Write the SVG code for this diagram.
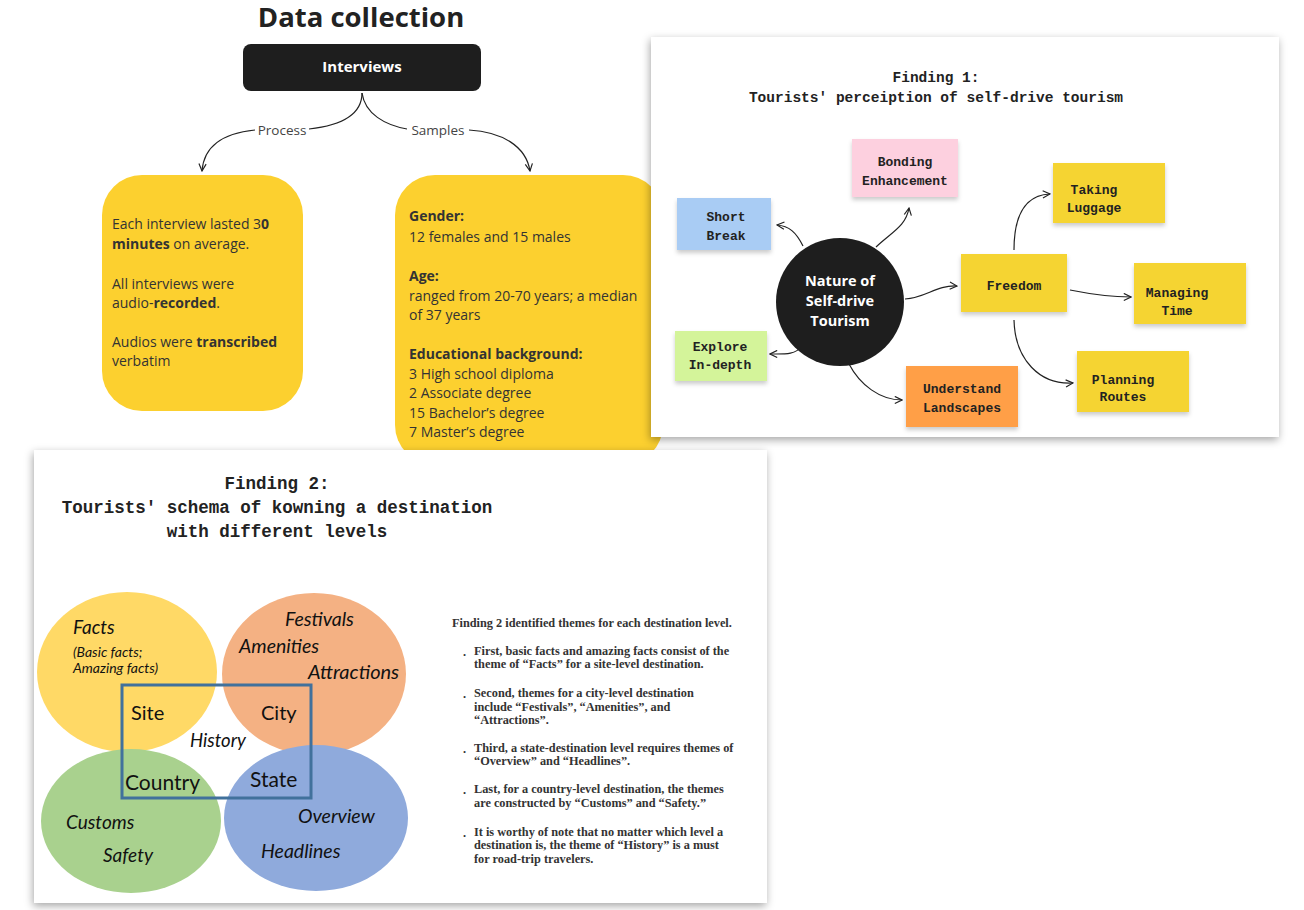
<svg xmlns="http://www.w3.org/2000/svg" width="1304" height="910" viewBox="0 0 1304 910">
<defs>
<style>
.sans{font-family:"Open Sans","Noto Sans","Liberation Sans",sans-serif}
.body{font-family:"Open Sans","Noto Sans",sans-serif;font-size:14px;fill:#333}
.b{font-weight:bold}
.mono{font-family:"Liberation Mono","DejaVu Sans Mono",monospace;font-weight:bold;fill:#222}
.note{font-family:"Liberation Mono","DejaVu Sans Mono",monospace;font-weight:bold;font-size:13px;fill:#222;text-anchor:middle}
.con{fill:none;stroke:#222;stroke-width:1.2}
.ven{font-family:Lato,"Open Sans",sans-serif;fill:#111}
.it{font-style:italic}
.ser{font-family:"Liberation Serif","DejaVu Serif",serif;font-weight:bold;font-size:12.3px;fill:#333}
</style>
<marker id="ah" viewBox="0 0 10 10" refX="9" refY="5" markerWidth="9" markerHeight="9" orient="auto" markerUnits="userSpaceOnUse">
<path d="M1,1 L9,5 L1,9" fill="none" stroke="#222" stroke-width="1.3"/>
</marker>
<filter id="panel" x="-10%" y="-10%" width="120%" height="120%">
<feDropShadow dx="-1" dy="3" stdDeviation="4" flood-color="#000" flood-opacity="0.35"/>
</filter>
<filter id="sh" x="-10%" y="-10%" width="120%" height="130%">
<feDropShadow dx="0" dy="3" stdDeviation="2" flood-color="#000" flood-opacity="0.2"/>
</filter>
</defs>
<rect width="1304" height="910" fill="#fff"/>

<g id="data-collection">
<text x="361" y="27" class="sans b" font-size="27.5" fill="#222" text-anchor="middle">Data collection</text>
<g id="interviews">
<rect x="243" y="44" width="238" height="47" rx="8" fill="#1e1e1e"/>
<text x="362" y="72" class="sans b" font-size="15" fill="#fff" text-anchor="middle">Interviews</text>
</g>
<g id="connectors-dc">
<path class="con" d="M362,93 C362,113 345,125 309,129"/>
<path class="con" d="M255,130 C225,133 204,144 202,171" marker-end="url(#ah)"/>
<path class="con" d="M362,93 C365,114 385,125 407,129"/>
<path class="con" d="M469,130 C502,132 526,146 530,171" marker-end="url(#ah)"/>
<text x="282" y="135" class="sans" font-size="13.5" fill="#444" text-anchor="middle">Process</text>
<text x="438" y="135" class="sans" font-size="13.5" fill="#444" text-anchor="middle">Samples</text>
</g>
<g id="process-box">
<rect x="102" y="175" width="201" height="236" rx="40" fill="#FCD02F"/>
<text class="body"><tspan x="112" y="229">Each interview lasted 3<tspan class="b">0</tspan></tspan><tspan x="112" y="249"><tspan class="b">minutes</tspan> on average.</tspan><tspan x="112" y="289">All interviews were</tspan><tspan x="112" y="308">audio-<tspan class="b">recorded</tspan>.</tspan><tspan x="112" y="347">Audios were <tspan class="b">transcribed</tspan></tspan><tspan x="112" y="366">verbatim</tspan></text>
</g>
<g id="samples-box">
<rect x="395" y="175" width="268" height="290" rx="40" fill="#FCD02F"/>
<text class="body"><tspan x="409" y="221" class="b">Gender:</tspan><tspan x="409" y="242">12 females and 15 males</tspan><tspan x="409" y="281" class="b">Age:</tspan><tspan x="409" y="301">ranged from 20-70 years; a median</tspan><tspan x="409" y="320">of 37 years</tspan><tspan x="409" y="359" class="b">Educational background:</tspan><tspan x="409" y="379">3 High school diploma</tspan><tspan x="409" y="398">2 Associate degree</tspan><tspan x="409" y="418">15 Bachelor’s degree</tspan><tspan x="409" y="437">7 Master’s degree</tspan></text>
</g>
</g>

<g id="finding1">
<rect x="651" y="37" width="628" height="400" fill="#fff" filter="url(#panel)"/>
<text x="936" y="82" class="mono" font-size="14.5" text-anchor="middle">Finding 1:</text>
<text x="936" y="102" class="mono" font-size="14.5" text-anchor="middle">Tourists' perceiption of self-drive tourism</text>
<g id="connectors-f1">
<path class="con" d="M803,246 C796,232 789,226 777,225" marker-end="url(#ah)"/>
<path class="con" d="M876,247 C892,232 906,226 909,208" marker-end="url(#ah)"/>
<path class="con" d="M905,299 C926,298 936,285 957,286" marker-end="url(#ah)"/>
<path class="con" d="M1014,250 C1014,214 1026,195 1050,194" marker-end="url(#ah)"/>
<path class="con" d="M1070,290 C1095,295 1110,297 1131,297" marker-end="url(#ah)"/>
<path class="con" d="M1014,320 C1015,360 1040,385 1073,383" marker-end="url(#ah)"/>
<path class="con" d="M849,364 C860,385 880,400 902,400" marker-end="url(#ah)"/>
<path class="con" d="M802,346 C795,355 785,354 770,354" marker-end="url(#ah)"/>
</g>
<g id="nature">
<circle cx="840" cy="302" r="64" fill="#1e1e1e"/>
<text class="sans b" font-size="14.5" fill="#fff" text-anchor="middle"><tspan x="840" y="286">Nature of</tspan><tspan x="840" y="306">Self-drive</tspan><tspan x="840" y="326">Tourism</tspan></text>
</g>
<g id="bonding">
<rect x="852" y="139" width="106" height="58" fill="#FDD0DF" filter="url(#sh)"/>
<text class="note"><tspan x="905" y="166">Bonding</tspan><tspan x="905" y="185">Enhancement</tspan></text>
</g>
<g id="short-break">
<rect x="677" y="198" width="94" height="52" fill="#A9CCF4" filter="url(#sh)"/>
<text class="note"><tspan x="726" y="221">Short</tspan><tspan x="726" y="240">Break</tspan></text>
</g>
<g id="taking-luggage">
<rect x="1053" y="163" width="112" height="60" fill="#F5D432" filter="url(#sh)"/>
<text class="note"><tspan x="1094" y="194">Taking</tspan><tspan x="1094" y="212">Luggage</tspan></text>
</g>
<g id="freedom">
<rect x="961" y="254" width="106" height="58" fill="#F5D432" filter="url(#sh)"/>
<text class="note" x="1014" y="290">Freedom</text>
</g>
<g id="managing-time">
<rect x="1134" y="263" width="112" height="61" fill="#F5D432" filter="url(#sh)"/>
<text class="note"><tspan x="1177" y="297">Managing</tspan><tspan x="1177" y="315">Time</tspan></text>
</g>
<g id="explore">
<rect x="675" y="331" width="92" height="50" fill="#D4F49A" filter="url(#sh)"/>
<text class="note"><tspan x="720" y="351">Explore</tspan><tspan x="720" y="369">In-depth</tspan></text>
</g>
<g id="understand">
<rect x="906" y="366" width="112" height="61" fill="#FF9F47" filter="url(#sh)"/>
<text class="note"><tspan x="962" y="393">Understand</tspan><tspan x="962" y="412">Landscapes</tspan></text>
</g>
<g id="planning">
<rect x="1077" y="351" width="112" height="61" fill="#F5D432" filter="url(#sh)"/>
<text class="note"><tspan x="1123" y="384">Planning</tspan><tspan x="1123" y="401">Routes</tspan></text>
</g>
</g>

<g id="finding2">
<rect x="34" y="450" width="733" height="453" fill="#fff" filter="url(#panel)"/>
<text class="mono" font-size="17.5" text-anchor="middle"><tspan x="277" y="489">Finding 2:</tspan><tspan x="277" y="513">Tourists' schema of kowning a destination</tspan><tspan x="277" y="537">with different levels</tspan></text>
<g id="venn">
<ellipse cx="127" cy="672" rx="90" ry="80" fill="#FFD966"/>
<ellipse cx="314" cy="674" rx="92" ry="81" fill="#F4B183"/>
<ellipse cx="131" cy="821" rx="90" ry="72" fill="#A9D18E"/>
<ellipse cx="316" cy="818" rx="92" ry="73" fill="#8FAADC"/>
<rect x="122" y="685" width="189" height="113" fill="none" stroke="#41719C" stroke-width="3"/>
<text class="ven it" font-size="19" x="73" y="634">Facts</text>
<text class="ven it" font-size="14" x="73" y="657">(Basic facts;</text>
<text class="ven it" font-size="14" x="73" y="673">Amazing facts)</text>
<text class="ven it" font-size="19.5" x="285" y="626">Festivals</text>
<text class="ven it" font-size="19.5" x="239" y="653">Amenities</text>
<text class="ven it" font-size="20" x="308" y="679">Attractions</text>
<text class="ven" font-size="20" x="131" y="720">Site</text>
<text class="ven" font-size="20" x="261" y="720">City</text>
<text class="ven it" font-size="18.5" x="190" y="747">History</text>
<text class="ven" font-size="21" x="125" y="790">Country</text>
<text class="ven" font-size="21" x="250" y="787">State</text>
<text class="ven it" font-size="19" x="66" y="829">Customs</text>
<text class="ven it" font-size="19" x="103" y="862">Safety</text>
<text class="ven it" font-size="19.5" x="298" y="823">Overview</text>
<text class="ven it" font-size="19.5" x="261" y="858">Headlines</text>
</g>
<g id="finding2-text">
<text class="ser" x="452" y="627">Finding 2 identified themes for each destination level.</text>
<text class="ser"><tspan x="463" y="656">.</tspan><tspan x="463" y="698">.</tspan><tspan x="463" y="753">.</tspan><tspan x="463" y="794">.</tspan><tspan x="463" y="837">.</tspan></text>
<text class="ser"><tspan x="474" y="655">First, basic facts and amazing facts consist of the</tspan><tspan x="474" y="668">theme of “Facts” for a site-level destination.</tspan><tspan x="474" y="697">Second, themes for a city-level destination</tspan><tspan x="474" y="711">include “Festivals”, “Amenities”, and</tspan><tspan x="474" y="724">“Attractions”.</tspan><tspan x="474" y="752">Third, a state-destination level requires themes of</tspan><tspan x="474" y="765">“Overview” and “Headlines”.</tspan><tspan x="474" y="793">Last, for a country-level destination, the themes</tspan><tspan x="474" y="807">are constructed by “Customs” and  “Safety.”</tspan><tspan x="474" y="836">It is worthy of note that no matter which level a</tspan><tspan x="474" y="849">destination is, the theme of “History” is a must</tspan><tspan x="474" y="863">for road-trip travelers.</tspan></text>
</g>
</g>
</svg>
